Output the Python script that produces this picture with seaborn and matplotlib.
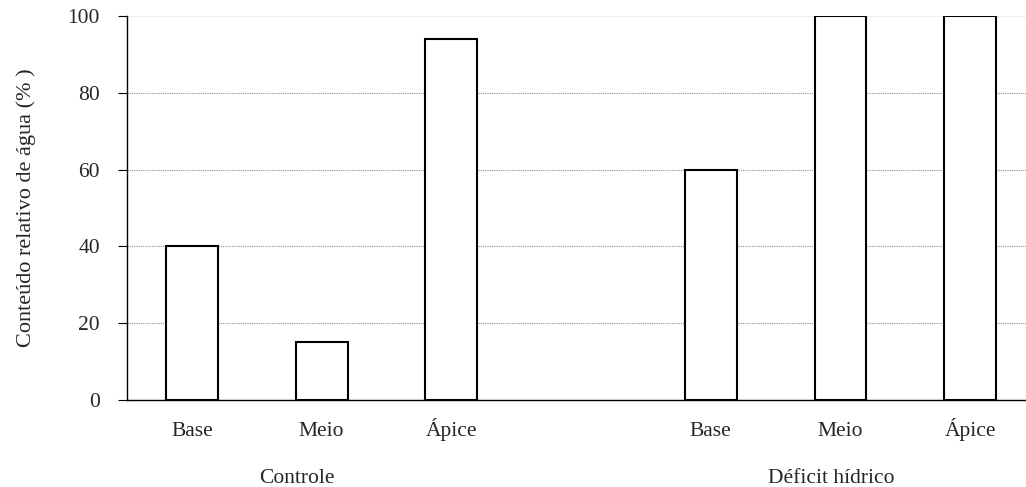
import numpy as np
import pandas as pd
import matplotlib
matplotlib.use("Agg")
import matplotlib.pyplot as plt
from matplotlib.ticker import FixedLocator
import seaborn as sns

# dados
grupos = ["Controle", "Controle", "Controle", "Déficit hídrico", "Déficit hídrico", "Déficit hídrico"]
partes = ["Base", "Meio", "Ápice", "Base", "Meio", "Ápice"]
valores = [40, 15, 94, 60, 100, 100]

nomes_grupos = ["Controle", "Déficit hídrico"]
nomes_partes = ["Base", "Meio", "Ápice"]

df = pd.DataFrame({"grupo": grupos, "parte": partes, "cra": valores})
# posição de cada barra: 3 partes por grupo com uma casa vazia entre grupos
df["pos"] = [nomes_grupos.index(g) * 4 + nomes_partes.index(p) for g, p in zip(df.grupo, df.parte)]

sns.set_style("white")
plt.rcParams["font.family"] = ["Liberation Serif", "DejaVu Serif"]
fs = 15.5

fig = plt.figure(figsize=(10.26, 4.87), dpi=100)
ax = fig.add_axes([0.1238, 0.1786, 0.8762, 0.7885])

sns.barplot(data=df, x="pos", y="cra", native_scale=True, width=0.4,
            color="white", edgecolor="black", linewidth=1.5, ax=ax, zorder=3)

ax.set_xlim(-0.5, 6.43)
ax.set_ylim(0, 100)
ax.set_yticks([0, 20, 40, 60, 80, 100])
ax.set_ylabel("Conteúdo relativo de água (% )", fontsize=16, labelpad=23)
ax.set_xlabel("")

# rótulos das partes no centro, marcas entre as casas
ax.set_xticks(df["pos"].tolist())
ax.set_xticklabels(df["parte"].tolist(), va="baseline")
ax.xaxis.set_minor_locator(FixedLocator(np.arange(-0.5, 7, 1)))
ax.tick_params(axis="x", which="major", length=0, pad=26, labelsize=fs)
ax.tick_params(axis="x", which="minor", length=6.5, width=0.8, direction="out", color="black")
ax.tick_params(axis="y", which="major", length=6.5, width=0.8, direction="out", color="black",
               pad=13, labelsize=fs, left=True)

for lado in ["top", "right"]:
    ax.spines[lado].set_visible(False)
ax.spines["left"].set_color("black")
ax.spines["bottom"].set_color("black")
ax.spines["left"].set_linewidth(1.0)
ax.spines["bottom"].set_linewidth(1.0)

ax.yaxis.grid(True, color="#909090", linestyle=(0, (1, 1)), linewidth=0.8, zorder=0)
ax.set_axisbelow(True)
ax.get_ygridlines()[-1].set_color("#eeeeee")
ax.get_ygridlines()[-1].set_linestyle("-")

# nomes dos grupos
for g, xg in zip(nomes_grupos, [0.81, 4.93]):
    ax.text(xg, -0.205, g, transform=ax.get_xaxis_transform(), ha="center", va="center", fontsize=fs)

fig.savefig("out.png", dpi=100)
